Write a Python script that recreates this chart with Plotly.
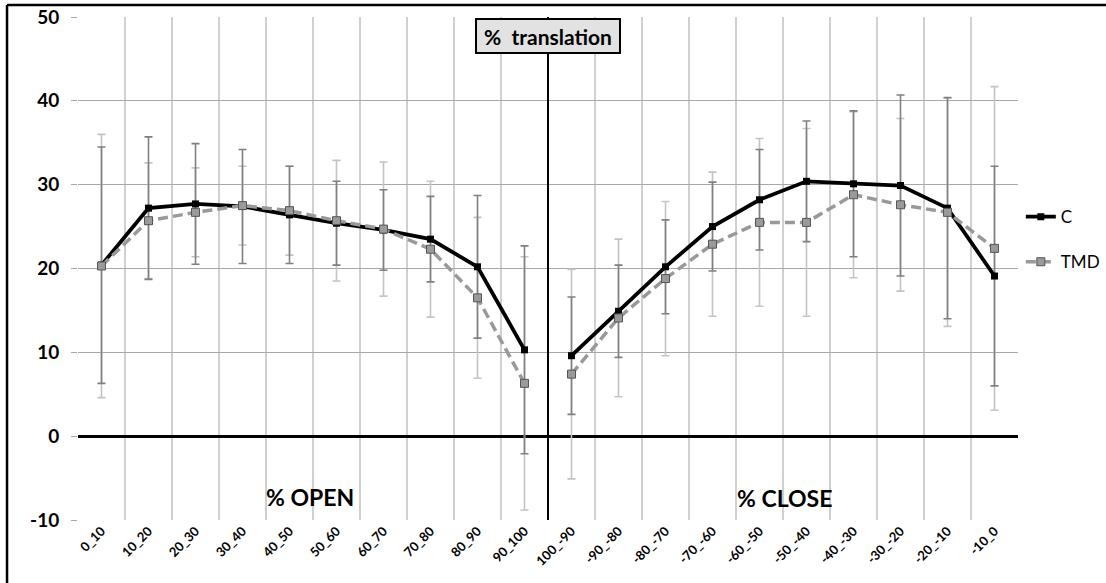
import plotly.graph_objects as go

categories = ["0_10", "10_20", "20_30", "30_40", "40_50", "50_60", "60_70", "70_80", "80_90", "90_100",
              "100_-90", "-90_-80", "-80_-70", "-70_-60", "-60_-50", "-50_-40", "-40_-30", "-30_-20", "-20_-10", "-10_0"]

c_values = [20.4, 27.2, 27.7, 27.4, 26.4, 25.4, 24.6, 23.5, 20.2, 10.3,
            9.6, 14.9, 20.2, 25.0, 28.2, 30.4, 30.1, 29.9, 27.2, 19.1]
c_err = [14.1, 8.5, 7.2, 6.8, 5.8, 5.0, 4.8, 5.1, 8.5, 12.4,
         7.0, 5.5, 5.6, 5.3, 6.0, 7.2, 8.7, 10.8, 13.2, 13.1]

tmd_values = [20.3, 25.7, 26.7, 27.5, 26.9, 25.7, 24.7, 22.3, 16.5, 6.3,
              7.4, 14.1, 18.8, 22.9, 25.5, 25.5, 28.8, 27.6, 26.7, 22.4]
tmd_err = [15.7, 6.9, 5.3, 4.7, 5.3, 7.2, 8.0, 8.1, 9.6, 15.1,
           12.5, 9.4, 9.2, 8.6, 10.0, 11.2, 9.9, 10.3, 13.6, 19.3]

series_names = ["C", "TMD"]
y_ticks = [-10, 0, 10, 20, 30, 40, 50]
y_tick_labels = ["-10", "0", "10", "20", "30", "40", "50"]
panel_labels = ["% OPEN", "% CLOSE"]
title_text = "%  translation"
n_open = 10  # first half = opening phase, second half = closing phase

FONT = "Lato"

fig = go.Figure()

# error bars (light TMD under dark C)
fig.add_trace(go.Scatter(
    x=categories, y=tmd_values, mode="markers",
    marker=dict(size=1, color="rgba(0,0,0,0)"),
    error_y=dict(type="data", array=tmd_err, visible=True, color="#c4c4c4", thickness=1.6, width=4),
    showlegend=False, hoverinfo="skip"))
fig.add_trace(go.Scatter(
    x=categories, y=c_values, mode="markers",
    marker=dict(size=1, color="rgba(0,0,0,0)"),
    error_y=dict(type="data", array=c_err, visible=True, color="#808080", thickness=1.6, width=4),
    showlegend=False, hoverinfo="skip"))

halves = [(categories[:n_open], slice(0, n_open)), (categories[n_open:], slice(n_open, None))]

for i, (cats, sl) in enumerate(halves):
    fig.add_trace(go.Scatter(
        x=cats, y=c_values[sl], name=series_names[0], mode="lines+markers",
        line=dict(color="black", width=3.8),
        marker=dict(symbol="square", size=7, color="black"),
        legendgroup="c", showlegend=(i == 0)))
for i, (cats, sl) in enumerate(halves):
    fig.add_trace(go.Scatter(
        x=cats, y=tmd_values[sl], name=series_names[1], mode="lines+markers",
        line=dict(color="#999999", width=3.5, dash="10px,5px"),
        marker=dict(symbol="square", size=8, color="#9a9a9a", line=dict(color="#555555", width=1)),
        legendgroup="tmd", showlegend=(i == 0)))

fig.update_xaxes(
    type="category", categoryorder="array", categoryarray=categories,
    range=[-0.5, 19.5], tickson="boundaries",
    showgrid=True, gridcolor="#d0d0d0", gridwidth=2,
    tickangle=-45, ticks="", showline=False, zeroline=False, automargin=False,
    tickfont=dict(family=FONT, size=13, color="black", weight="bold"),
)
fig.update_yaxes(
    range=[-10, 50], tickvals=y_ticks, ticktext=y_tick_labels,
    showgrid=True, gridcolor="#a8a8a8", gridwidth=1,
    zeroline=True, zerolinecolor="black", zerolinewidth=2.5,
    ticks="outside", ticklen=6, tickcolor="#a8a8a8", ticklabelstandoff=8,
    showline=False, automargin=False,
    tickfont=dict(family=FONT, size=19, color="black", weight="bold"),
)

# vertical divider at the boundary between OPEN and CLOSE
fig.add_shape(type="line", xref="x", yref="y", x0=n_open - 0.5, x1=n_open - 0.5, y0=-10, y1=50,
              line=dict(color="black", width=2), layer="above")

# outer frame (top and left)
fig.add_shape(type="line", xref="paper", yref="paper", x0=-0.0755, x1=1.1, y0=1.0239, y1=1.0239,
              line=dict(color="black", width=2.5))
fig.add_shape(type="line", xref="paper", yref="paper", x0=-0.0755, x1=-0.0755, y0=-0.2, y1=1.0239,
              line=dict(color="black", width=2.5))

fig.add_annotation(x=n_open - 0.5, y=49.9, xref="x", yref="y", text="<b>" + title_text + "</b>",
                   showarrow=False, yanchor="top", xanchor="center",
                   font=dict(family=FONT, size=21, color="black"),
                   bgcolor="#e2e2e2", bordercolor="black", borderwidth=2, borderpad=2,
                   width=138, height=28)
fig.add_annotation(x=4.44, y=-7.3, xref="x", yref="y", text="<b>" + panel_labels[0] + "</b>",
                   showarrow=False, font=dict(family=FONT, size=23, color="black"))
fig.add_annotation(x=14.54, y=-7.4, xref="x", yref="y", text="<b>" + panel_labels[1] + "</b>",
                   showarrow=False, font=dict(family=FONT, size=23, color="black"))

fig.update_layout(
    width=1106, height=583,
    margin=dict(l=78, r=88, t=17, b=63, autoexpand=False),
    paper_bgcolor="white", plot_bgcolor="white",
    showlegend=True,
    legend=dict(x=1.003, y=0.638, xanchor="left", yanchor="top",
                font=dict(family=FONT, size=17, color="black"),
                tracegroupgap=20, bgcolor="rgba(0,0,0,0)", itemwidth=30),
)

fig.write_html("out.html", config={"displayModeBar": False},
               post_script="document.body.style.margin='0';document.body.style.overflow='hidden';")
